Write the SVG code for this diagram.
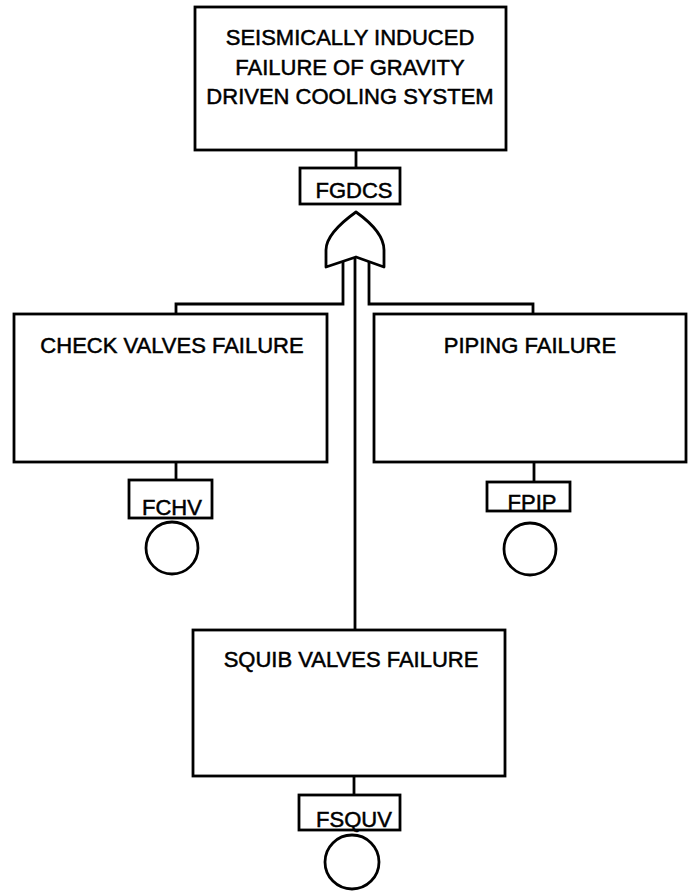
<svg xmlns="http://www.w3.org/2000/svg" width="688" height="893" viewBox="0 0 688 893">
  <style>
    .box { fill: #ffffff; stroke: #000000; stroke-width: 2.8; }
    .wire { fill: none; stroke: #000000; stroke-width: 2.8; }
    .gate { fill: #ffffff; stroke: #000000; stroke-width: 2.8; stroke-linejoin: round; }
    .lbl { font-family: "Liberation Sans", Arial, sans-serif; font-size: 22px; fill: #000000; stroke: #000000; stroke-width: 0.5; text-anchor: middle; }
  </style>
  <rect width="688" height="893" fill="#ffffff"/>

  <!-- connectors -->
  <g id="connectors">
    <line class="wire" x1="356" y1="150" x2="356" y2="168"/>
    <polyline class="wire" points="343,262 343,304 176,304 176,314"/>
    <polyline class="wire" points="369,262 369,304 533,304 533,314"/>
    <line class="wire" x1="355" y1="257" x2="355" y2="630"/>
    <line class="wire" x1="176" y1="462" x2="176" y2="480"/>
    <line class="wire" x1="534" y1="462" x2="534" y2="482"/>
    <line class="wire" x1="354" y1="776" x2="354" y2="795"/>
  </g>

  <!-- top event -->
  <g id="top-event">
    <rect class="box" x="195" y="7" width="311" height="143"/>
    <text class="lbl" x="350" y="45">SEISMICALLY INDUCED</text>
    <text class="lbl" x="350" y="75">FAILURE OF GRAVITY</text>
    <text class="lbl" x="350" y="104">DRIVEN COOLING SYSTEM</text>
  </g>

  <g id="tag-fgdcs">
    <rect class="box" x="300" y="168" width="100" height="36"/>
    <text class="lbl" x="354" y="198">FGDCS</text>
  </g>

  <!-- OR gate -->
  <g id="or-gate">
    <path class="gate" d="M326,267 L326,250 C326,236 342,222 356,212 C370,222 384,236 384,250 L384,267 L356,257 Z"/>
  </g>

  <!-- intermediate events -->
  <g id="check-valves">
    <rect class="box" x="14" y="314" width="313" height="148"/>
    <text class="lbl" x="172" y="353">CHECK VALVES FAILURE</text>
  </g>

  <g id="piping">
    <rect class="box" x="374" y="314" width="312" height="148"/>
    <text class="lbl" x="530" y="353">PIPING FAILURE</text>
  </g>

  <g id="squib-valves">
    <rect class="box" x="193" y="630" width="312" height="146"/>
    <text class="lbl" x="351" y="667">SQUIB VALVES FAILURE</text>
  </g>

  <!-- basic events -->
  <g id="basic-fchv">
    <rect class="box" x="129" y="480" width="83" height="38"/>
    <text class="lbl" x="172" y="515">FCHV</text>
    <circle class="box" cx="172" cy="548" r="26"/>
  </g>

  <g id="basic-fpip">
    <rect class="box" x="487" y="482" width="83" height="29"/>
    <text class="lbl" x="532" y="510">FPIP</text>
    <circle class="box" cx="530" cy="549" r="26"/>
  </g>

  <g id="basic-fsquv">
    <rect class="box" x="299" y="795" width="101" height="35"/>
    <text class="lbl" x="354" y="827">FSQUV</text>
    <circle class="box" cx="352" cy="862" r="27"/>
  </g>
</svg>
